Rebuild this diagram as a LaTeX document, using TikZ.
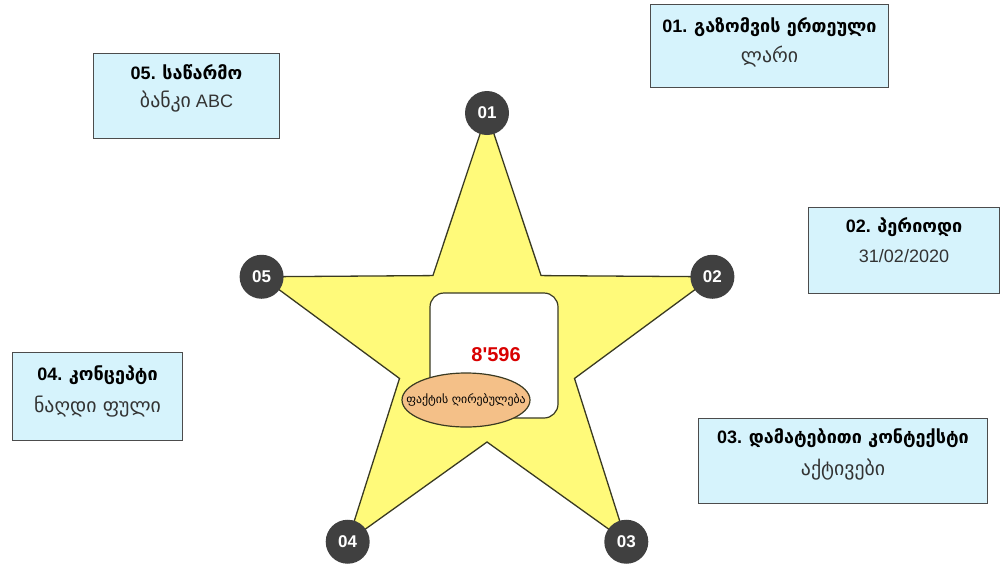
\documentclass[tikz,border=0pt]{standalone}
\usepackage{fontspec}
\setmainfont{Liberation Sans}
\newfontfamily\geo{DejaVu Sans}
\newfontfamily\geosub[Scale=1.1]{DejaVu Sans}
\usetikzlibrary{shapes.geometric,calc}
\definecolor{boxfill}{RGB}{214,243,252}
\definecolor{starfill}{RGB}{255,250,122}
\definecolor{dotfill}{RGB}{64,64,64}
\definecolor{ovalfill}{RGB}{244,192,136}
\definecolor{edge}{RGB}{58,58,34}
\tikzset{
info/.style={draw=black!70, fill=boxfill, line width=1pt, anchor=north west, inner sep=0pt},
ttl/.style={font=\bfseries\fontsize{18}{18}\selectfont, inner sep=0pt},
sub/.style={font=\fontsize{18}{18}\selectfont, text=black!80, inner sep=0pt},
num/.style={circle, fill=dotfill, text=white, minimum size=44pt, inner sep=0pt,
  font=\bfseries\fontsize{17}{17}\selectfont},
}

\begin{document}
\begin{tikzpicture}[x=1pt, y=-1pt]
\useasboundingbox (0,0) rectangle (1000,563);

% star
\coordinate (c) at (487,350);
\foreach \i in {0,...,4} {
  \coordinate (tip\i) at ($(c)+(-90+72*\i:237)$);
  \coordinate (in\i) at ($(c)+(-54+72*\i:92)$);
}
\draw[fill=starfill, draw=edge, line width=1.3pt, line join=miter]
  (tip0) -- (in0) -- (tip1) -- (in1) -- (tip2) -- (in2) -- (tip3) -- (in3)
  -- (tip4) -- (in4) -- cycle;

% value in the middle
\node[draw=edge, fill=white, line width=1.2pt, rounded corners=14pt,
  minimum width=128pt, minimum height=125pt] (val) at (494,355.5) {};
\node[text=red!85!black, font=\bfseries\fontsize{20}{20}\selectfont] (amount) at (496,355) {8\textquotesingle596};
\node[ellipse, draw=edge, fill=ovalfill, line width=1.2pt, minimum width=128pt,
  minimum height=54pt, inner sep=0pt] (fact) at (466,400) {};
\node[font=\geo\fontsize{11.8}{12}\selectfont, inner sep=0pt] (factlabel) at (fact) {ფაქტის ღირებულება};

% numbered tips
\node[num] (n1) at (tip0) {01};
\node[num] (n2) at (tip1) {02};
\node[num] (n3) at (tip2) {03};
\node[num] (n4) at (tip3) {04};
\node[num] (n5) at (tip4) {05};

% dimensions
\node[info, minimum width=238pt, minimum height=83pt] (d1) at (650,4) {};
\node[ttl] (d1t) at ($(d1.north)+(0,23)$) {01. {\geo გაზომვის ერთეული}};
\node[sub] (d1s) at ($(d1.north)+(0,53)$) {\geosub ლარი};

\node[info, minimum width=191pt, minimum height=86pt] (d2) at (808,207) {};
\node[ttl] (d2t) at ($(d2.north)+(0,20)$) {02. {\geo პერიოდი}};
\node[sub] (d2s) at ($(d2.north)+(0,49)$) {31/02/2020};

\node[info, minimum width=289pt, minimum height=85pt] (d3) at (698,418) {};
\node[ttl] (d3t) at ($(d3.north)+(0,20)$) {03. {\geo დამატებითი კონტექსტი}};
\node[sub] (d3s) at ($(d3.north)+(0,52)$) {\geosub აქტივები};

\node[info, minimum width=170pt, minimum height=88pt] (d4) at (12,352) {};
\node[ttl] (d4t) at ($(d4.north)+(0,23)$) {04. {\geo კონცეპტი}};
\node[sub] (d4s) at ($(d4.north)+(0,55)$) {\geosub ნაღდი ფული};

\node[info, minimum width=186pt, minimum height=85pt] (d5) at (93,53) {};
\node[ttl] (d5t) at ($(d5.north)+(0,19)$) {05. {\geo საწარმო}};
\node[sub] (d5s) at ($(d5.north)+(0,49)$) {{\geosub ბანკი} ABC};
\end{tikzpicture}
\end{document}
